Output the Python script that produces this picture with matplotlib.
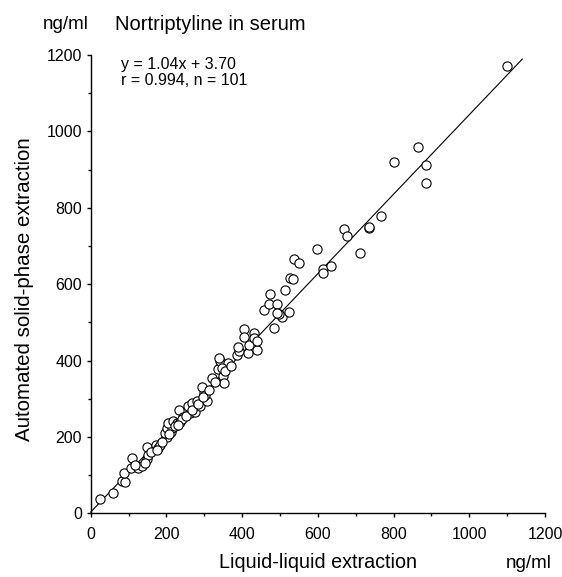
import matplotlib
matplotlib.use("Agg")
import matplotlib.pyplot as plt
from matplotlib.ticker import MultipleLocator

plt.rcParams['font.family'] = ['Liberation Sans', 'DejaVu Sans']

# Liquid-liquid extraction (x) vs automated solid-phase extraction (y), ng/ml
x_lle = [25, 60, 82, 91, 89, 108, 106, 126, 136, 148, 148, 151, 144, 172, 179, 183,
         201, 196, 212, 201, 214, 205, 218, 227, 236, 232, 245, 262, 276, 258, 289,
         267, 280, 307, 298, 293, 302, 320, 337, 349, 351, 342, 362, 348, 340, 386,
         393, 415, 390, 417, 439, 432, 432, 405, 406, 485, 505, 498, 525, 459, 470,
         492, 474, 514, 527, 534, 538, 549, 599, 613, 635, 613, 712, 669, 678, 734,
         736, 768, 802, 864, 885, 885, 1100,
         118, 160, 188, 208, 222, 240, 252, 268, 284, 296, 312, 328, 356, 370, 230,
         176, 493, 440]
y_spe = [37, 54, 86, 82, 105, 144, 120, 120, 124, 142, 173, 153, 131, 179, 171, 179,
         199, 210, 214, 223, 223, 236, 242, 236, 240, 271, 253, 262, 266, 280, 281,
         288, 295, 295, 315, 330, 310, 354, 378, 360, 342, 400, 393, 380, 406, 415,
         426, 420, 436, 440, 429, 472, 459, 483, 461, 485, 513, 521, 527, 533, 548,
         548, 574, 585, 615, 613, 666, 655, 691, 641, 649, 629, 682, 745, 726, 746,
         750, 779, 921, 958, 911, 864, 1172,
         128, 160, 186, 207, 228, 248, 256, 272, 287, 304, 322, 345, 372, 385, 232,
         166, 524, 452]

slope = 1.04
intercept = 3.70
line_x = [0, 1140]

fig = plt.figure(figsize=(5.62, 5.77), dpi=100)
ax = fig.add_axes([0.1614, 0.1101, 0.8084, 0.7946])

ax.plot(line_x, [slope * v + intercept for v in line_x], color='black', lw=0.8,
        zorder=1, clip_on=False)
ax.scatter(x_lle, y_spe, s=44, facecolors='white', edgecolors='black',
           linewidths=0.8, zorder=2, clip_on=False)

ax.set_xlim(0, 1200)
ax.set_ylim(0, 1200)
ax.xaxis.set_major_locator(MultipleLocator(200))
ax.xaxis.set_minor_locator(MultipleLocator(100))
ax.yaxis.set_major_locator(MultipleLocator(200))
ax.yaxis.set_minor_locator(MultipleLocator(100))
for s in ['top', 'right']:
    ax.spines[s].set_visible(False)
for s in ['left', 'bottom']:
    ax.spines[s].set_linewidth(1.0)
ax.tick_params(which='major', direction='out', length=3.2, width=1.0, labelsize=11.5,
               pad=3)
ax.tick_params(axis='x', which='major', pad=6.5)
ax.tick_params(which='minor', direction='out', length=2.2, width=1.0)

ax.set_xlabel('Liquid-liquid extraction', fontsize=14.2, va='center')
ax.xaxis.set_label_coords(0.5, -0.108)
ax.set_ylabel('Automated solid-phase extraction', fontsize=14.8, va='center')
ax.yaxis.set_label_coords(-0.145, 0.49)

fig.text(0.077, 0.957, 'ng/ml', fontsize=13.5, ha='left', va='center')
fig.text(0.205, 0.957, 'Nortriptyline in serum', fontsize=14.5, ha='left', va='center')
fig.text(0.982, 0.024, 'ng/ml', fontsize=13.5, ha='right', va='center')

fig.text(0.215, 0.874, 'y = 1.04x + 3.70\nr = 0.994, n = 101',
         fontsize=11.5, ha='left', va='center', linespacing=1.05)

fig.savefig('out.png', dpi=100, facecolor='white')
